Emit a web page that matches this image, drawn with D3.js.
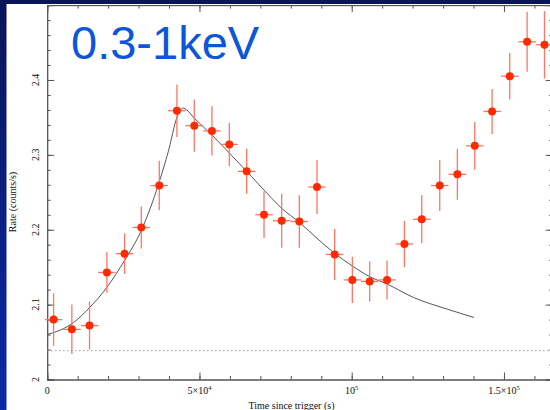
<!DOCTYPE html>
<html>
<head>
<meta charset="utf-8">
<script src="https://cdn.jsdelivr.net/npm/d3@7"></script>
<style>
  html, body { margin: 0; padding: 0; background: #0a1560; }
  svg { display: block; }
</style>
</head>
<body>
<main></main>
<script>
// light curve points
const times = [2100, 8100, 13900, 19600, 25400, 30900, 36800, 42600, 48300, 54100,
  59800, 65500, 71200, 77000, 82800, 88600, 94400, 100200, 105900, 111600,
  117300, 123000, 128900, 134700, 140400, 146100, 151900, 157600, 163300];
const rates = [2.080, 2.067, 2.072, 2.143, 2.168, 2.203, 2.259, 2.359, 2.339, 2.332,
  2.314, 2.278, 2.220, 2.212, 2.211, 2.257, 2.167, 2.133, 2.131, 2.133,
  2.181, 2.214, 2.259, 2.274, 2.312, 2.358, 2.405, 2.451, 2.447];
const rateErr = [0.035, 0.033, 0.032, 0.027, 0.027, 0.028, 0.033, 0.035, 0.035, 0.033,
  0.029, 0.030, 0.031, 0.036, 0.035, 0.036, 0.034, 0.031, 0.027, 0.026,
  0.031, 0.032, 0.034, 0.034, 0.032, 0.030, 0.031, 0.040, 0.045];
const timeErr = 2880;

// model curve
const modelT = [0, 4300, 8600, 13900, 19600, 25400, 30900, 36800, 39800, 42600, 43700,
  44700, 45500, 48300, 54100, 59800, 65500, 71200, 77000, 82800, 88600, 94400,
  100200, 105900, 111600, 120300, 131500, 140200];
const modelR = [2.060, 2.066, 2.076, 2.096, 2.123, 2.159, 2.199, 2.264, 2.305, 2.350, 2.360,
  2.3625, 2.361, 2.349, 2.3265, 2.3025, 2.278, 2.253, 2.2286, 2.2099, 2.1886, 2.1685,
  2.1516, 2.1373, 2.1275, 2.1095, 2.0938, 2.0828];

const background = 2.0385;
const xMajor = [0, 50000, 100000, 150000];
const xMinor = d3.range(0, 170000, 10000);
const xLabels = [["0", ""], ["5×10", "4"], ["10", "5"], ["1.5×10", "5"]];
const yMajor = [2, 2.1, 2.2, 2.3, 2.4, 2.5];
const yMinor = d3.range(2, 2.501, 0.02);
const yLabels = ["2", "2.1", "2.2", "2.3", "2.4"];

const width = 550, height = 410;
const svg = d3.select("main").append("svg")
  .attr("width", width)
  .attr("height", height);

const grad = svg.append("defs").append("linearGradient")
  .attr("id", "bg").attr("x1", 0).attr("y1", 0).attr("x2", 0).attr("y2", 1);
grad.append("stop").attr("offset", "0%").attr("stop-color", "#0a1458");
grad.append("stop").attr("offset", "100%").attr("stop-color", "#0c2aa6");

svg.append("rect").attr("width", width).attr("height", height).attr("fill", "url(#bg)");
svg.append("rect").attr("x", 6.5).attr("y", 4).attr("width", width).attr("height", height)
  .attr("fill", "#fff");

const x = d3.scaleLinear().domain([0, 166000]).range([47.2, 552.7]);
const y = d3.scaleLinear().domain([2, 2.5]).range([379.5, 5.1]);

const axisCol = "#555";
function drawAxis(axisFn, scale, ticks, size, tr) {
  const g = svg.append("g")
    .attr("transform", tr)
    .call(axisFn(scale).tickValues(ticks).tickSize(size).tickFormat(""));
  g.selectAll("path").attr("stroke", axisCol);
  g.selectAll("line").attr("stroke", axisCol);
  return g;
}
// bottom / top
drawAxis(d3.axisBottom, x, xMinor, -3.5, `translate(0,${y(2)})`);
drawAxis(d3.axisBottom, x, xMajor, -7, `translate(0,${y(2)})`);
drawAxis(d3.axisTop, x, xMinor, -3.5, `translate(0,${y(2.5)})`);
drawAxis(d3.axisTop, x, xMajor, -7, `translate(0,${y(2.5)})`);
// left / right
drawAxis(d3.axisLeft, y, yMinor, -3.5, `translate(${x(0)},0)`);
drawAxis(d3.axisLeft, y, yMajor, -7, `translate(${x(0)},0)`);
drawAxis(d3.axisRight, y, yMinor, -3.5, `translate(${x(166000)},0)`);
drawAxis(d3.axisRight, y, yMajor, -7, `translate(${x(166000)},0)`);

// tick labels
const lab = svg.append("g").attr("font-family", "'Liberation Serif', serif")
  .attr("font-size", 10).attr("fill", "#111");
xLabels.forEach((l, i) => {
  const t = lab.append("text").attr("x", x(xMajor[i])).attr("y", 394)
    .attr("text-anchor", "middle");
  t.append("tspan").text(l[0]);
  if (l[1]) t.append("tspan").attr("font-size", 6.5).attr("dy", -4).text(l[1]);
});
yLabels.forEach((l, i) => {
  lab.append("text")
    .attr("transform", `translate(38.5,${y(yMajor[i])}) rotate(-90)`)
    .attr("text-anchor", "middle").text(l);
});
lab.append("text").attr("x", 291.5).attr("y", 408.5).attr("text-anchor", "middle")
  .text("Time since trigger (s)");
lab.append("text").attr("transform", "translate(15.5,202) rotate(-90)")
  .attr("text-anchor", "middle").text("Rate (counts/s)");

// background level
svg.append("line")
  .attr("x1", x(0)).attr("x2", width)
  .attr("y1", y(background)).attr("y2", y(background))
  .attr("stroke", "#888").attr("stroke-width", 1)
  .attr("stroke-dasharray", "1.2,2.8");

// model
const model = modelT.map((t, i) => [t, modelR[i]]);
svg.append("path")
  .datum(model)
  .attr("fill", "none")
  .attr("stroke", "#444")
  .attr("stroke-width", 0.9)
  .attr("d", d3.line().x(d => x(d[0])).y(d => y(d[1])).curve(d3.curveMonotoneX));

// data points
const pts = times.map((t, i) => ({ t: t, r: rates[i], e: rateErr[i] }));
const gp = svg.append("g");
gp.selectAll(".ey").data(pts).enter().append("line")
  .attr("x1", d => x(d.t)).attr("x2", d => x(d.t))
  .attr("y1", d => y(d.r - d.e)).attr("y2", d => y(d.r + d.e))
  .attr("stroke", "#ff7562").attr("stroke-width", 1.3);
gp.selectAll(".ex").data(pts).enter().append("line")
  .attr("x1", d => x(d.t - timeErr)).attr("x2", d => x(d.t + timeErr))
  .attr("y1", d => y(d.r)).attr("y2", d => y(d.r))
  .attr("stroke", "#ff7562").attr("stroke-width", 1.3);
gp.selectAll("circle").data(pts).enter().append("circle")
  .attr("cx", d => x(d.t)).attr("cy", d => y(d.r)).attr("r", 4)
  .attr("fill", "#ff2a00");

// band title
svg.append("text").attr("x", 71).attr("y", 59)
  .attr("font-family", "'Liberation Sans', Arial, sans-serif")
  .attr("font-size", 47).attr("fill", "#0c56d8")
  .text("0.3-1keV");
</script>
</body>
</html>
